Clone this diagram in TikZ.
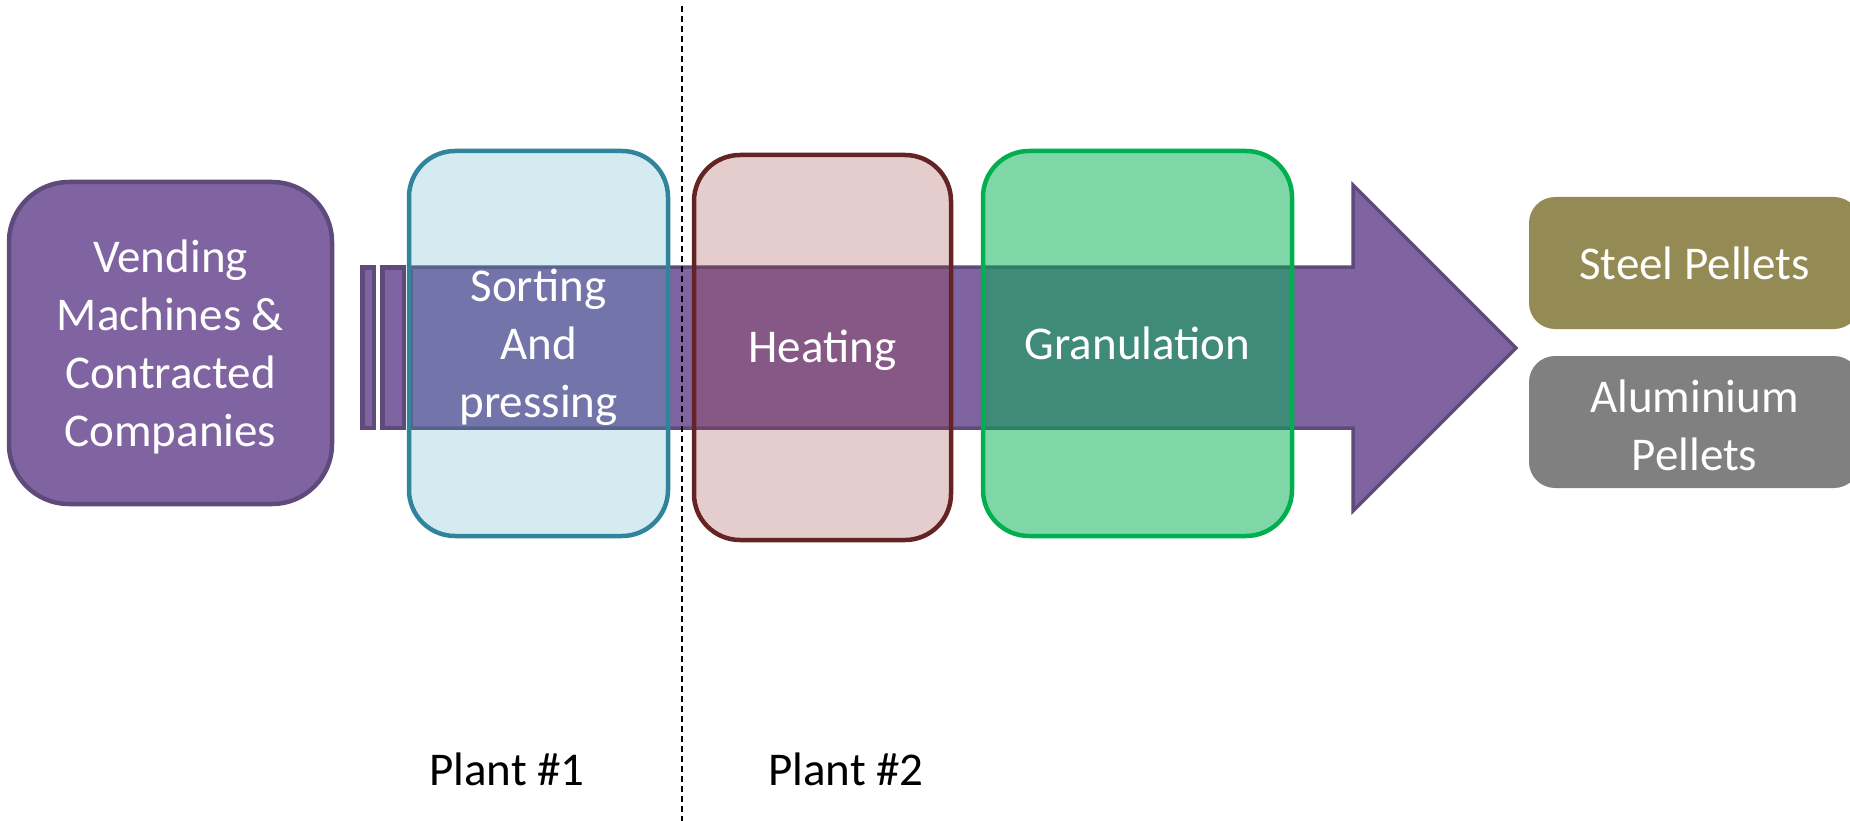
\documentclass[tikz,border=0pt]{standalone}
\usepackage{fontspec}
\setmainfont{Carlito}
\definecolor{purp}{HTML}{8064A2}
\definecolor{purpline}{HTML}{5E4B7C}
\definecolor{aqua}{HTML}{4BACC6}
\definecolor{aqualine}{HTML}{31849B}
\definecolor{redfill}{HTML}{953735}
\definecolor{redline}{HTML}{632423}
\definecolor{grn}{HTML}{00B050}
\definecolor{olive}{HTML}{948A54}
\definecolor{gry}{HTML}{808080}
\tikzset{
  txt/.style={inner sep=0pt, align=center, font=\fontsize{47}{58}\selectfont},
  wtxt/.style={txt, text=white},
  stagebox/.style={rectangle, rounded corners=46pt, line width=4.5pt, minimum height=385pt},
  prodbox/.style={rectangle, rounded corners=26pt, minimum width=331pt, minimum height=132pt},
  stripe/.style={fill=purp, draw=purpline, line width=4.5pt},
}
\begin{document}
\begin{tikzpicture}[x=1pt,y=-1pt]
\useasboundingbox (0,0) rectangle (1850,821);
% source
\node[rectangle, rounded corners=60pt, fill=purp, draw=purpline, line width=4.5pt,
      minimum width=323pt, minimum height=322pt] (vending) at (170.5,343) {};
% striped arrow
\draw[stripe] (362.25,267.25) rectangle (373.75,427.75);
\draw[stripe] (382.25,267.25) rectangle (403.75,427.75);
\draw[stripe, line width=3.5pt, line join=miter]
  (411,267) -- (1353,267) -- (1353,185) -- (1516,348) -- (1353,511) -- (1353,428) -- (411,428) -- cycle;
% stages
\node[stagebox, fill=aqua, fill opacity=0.24, draw=aqualine, draw opacity=1, minimum width=259pt]
  (sorting) at (538.5,343.5) {};
\node[stagebox, fill=redfill, fill opacity=0.25, draw=redline, draw opacity=1, minimum width=257pt]
  (heating) at (822.5,347.5) {};
\node[stagebox, fill=grn, fill opacity=0.5, draw=grn, draw opacity=1, minimum width=309pt]
  (gran) at (1137.5,343.5) {};
% products
\node[prodbox, fill=olive] (steel) at (1694.5,263) {};
\node[prodbox, fill=gry] (alu) at (1694.5,422) {};
% texts
\node[wtxt] (vendingtext) at ([yshift=-4pt]vending.center) {Vending\\Machines \&\\Contracted\\Companies};
\node[wtxt] (sortingtext) at ([yshift=-4pt]sorting.center) {Sorting\\And\\pressing};
\node[wtxt] (heatingtext) at ([yshift=-3pt]heating.center) {Heating};
\node[wtxt] (grantext) at (gran.center) {Granulation};
\node[wtxt] (steeltext) at (steel.center) {Steel Pellets};
\node[wtxt] (alutext) at ([yshift=-3pt]alu.center) {Aluminium\\Pellets};
% divider
\coordinate (divtop) at (682,6);
\coordinate (divbot) at (682,821);
\draw[line width=1.5pt, dash pattern=on 6pt off 4pt] (divtop) -- (divbot);
% plant labels
\node[txt, text=black] (plant1) at (507,769) {Plant \#1};
\node[txt, text=black] (plant2) at (846,769) {Plant \#2};
\end{tikzpicture}
\end{document}
